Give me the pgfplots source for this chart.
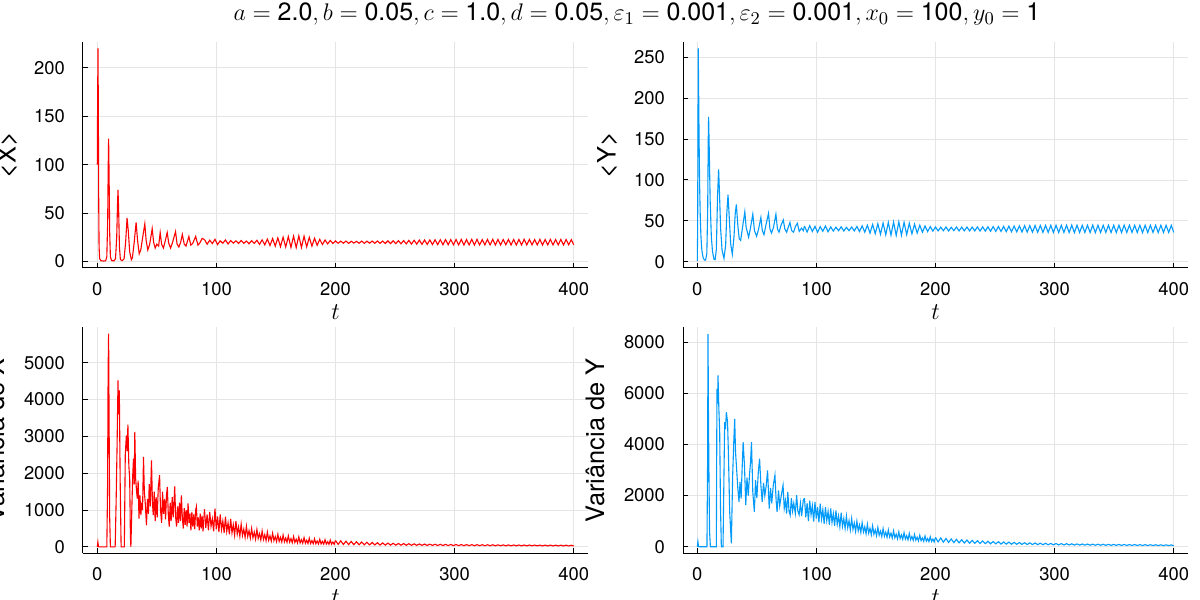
\documentclass[border=0pt]{standalone}
\usepackage{pgfplots}
\usepackage{pgfplotstable}
\pgfplotsset{compat=1.18}
\usepackage{fontspec}
\setmainfont{TeX Gyre Heros}
\definecolor{jlred}{RGB}{255,0,0}
\definecolor{jlblue}{RGB}{0,154,250}
\newcommand{\ticksize}{\fontsize{9.2pt}{11pt}\selectfont}
\newcommand{\labsize}{\fontsize{12.7pt}{15pt}\selectfont}

\pgfplotstableread{
t X Y VX VY
90 22.8 43.5 1020 1900
92.2 17.9 36.2 480 1000
94.4 22.1 44.0 950 1750
96.6 18.6 36.8 420 1050
98.8 23.0 43.2 1040 1700
101 17.6 35.9 380 950
103.2 21.5 42.8 880 1650
105.4 18.9 37.1 360 900
107.6 22.4 43.6 820 1550
109.8 18.2 36.5 340 880
112 21.7 42.5 760 1500
114.2 19.1 37.4 300 820
116.4 21.4 42.2 700 1400
118.6 18.7 37.8 280 780
120.8 21.8 42.6 620 1300
123 18.9 37.5 250 720
125.2 21.2 42.0 560 1200
127.4 18.4 37.9 230 680
129.6 21.6 42.4 500 1100
131.8 18.8 37.6 210 620
134 22.0 43.0 470 1000
136.2 17.8 36.8 190 580
138.4 22.5 43.8 430 940
140.6 17.2 36.0 170 530
142.8 23.2 44.6 400 880
145 16.6 35.0 160 490
147.2 23.8 45.5 380 820
149.4 16.0 34.2 150 450
151.6 24.5 46.4 350 760
153.8 15.4 33.5 140 420
156 25.2 47.2 330 710
158.2 15.0 32.8 130 390
160.4 25.8 48.0 310 660
162.6 14.6 32.3 120 360
164.8 26.3 48.5 290 620
167 14.4 32.0 110 330
169.2 26.6 48.8 280 580
171.4 14.6 32.2 100 310
173.6 26.2 48.2 260 550
175.8 15.2 33.0 95 290
178 25.0 47.0 240 520
180.2 16.0 34.0 90 270
182.4 24.0 45.8 225 480
184.6 16.8 35.0 85 250
186.8 23.0 44.6 210 450
189 17.6 36.0 80 230
191.2 22.3 43.6 200 420
193.4 18.3 36.8 75 215
195.6 21.8 42.9 185 390
197.8 18.7 37.3 72 200
200 21.3 42.5 175 365
202.2 18.9 37.6 68 188
204.4 21.1 42.2 165 345
206.6 19.0 37.8 65 178
208.8 21.2 42.4 155 325
211 18.8 37.5 62 168
213.2 21.0 42.1 148 305
215.4 19.1 37.9 60 160
217.6 20.9 42.3 140 290
219.8 18.9 37.6 58 152
222 21.2 42.2 132 275
224.2 18.8 37.7 56 145
226.4 21.1 42.4 126 262
228.6 19.0 37.5 54 138
230.8 21.2 42.3 120 250
233 18.9 37.6 52 132
235.2 21.3 42.5 114 238
237.4 18.8 37.4 50 126
239.6 21.2 42.6 108 226
241.8 18.7 37.3 48 120
244 21.4 42.7 103 216
246.2 18.6 37.2 47 115
248.4 21.5 42.9 98 206
250.6 18.5 37.0 46 110
252.8 21.6 43.0 94 197
255 18.4 36.9 45 105
257.2 21.7 43.2 90 188
259.4 18.3 36.7 44 101
261.6 21.9 43.4 86 180
263.8 18.1 36.5 43 97
266 22.0 43.6 83 172
268.2 18.0 36.4 42 93
270.4 22.2 43.8 80 165
272.6 17.8 36.2 41 90
274.8 22.3 44.0 77 158
277 17.7 36.1 40 87
279.2 22.4 44.1 74 152
281.4 17.6 36.0 39 84
283.6 22.5 44.2 72 146
285.8 17.5 35.9 38 81
288 22.6 44.3 70 140
290.2 17.4 35.8 37 78
292.4 22.7 44.4 68 135
294.6 17.4 35.8 36 76
296.8 22.7 44.5 66 130
299 17.3 35.7 35 73
301.2 22.8 44.6 64 126
303.4 17.2 35.6 34 71
305.6 22.9 44.5 63 122
307.8 17.1 35.7 33 69
310 22.8 44.6 62 118
312.2 17.2 35.6 33 67
314.4 23.0 44.7 61 114
316.6 17.1 35.5 32 65
318.8 22.9 44.6 60 111
321 17.2 35.6 32 63
323.2 22.8 44.5 59 108
325.4 17.3 35.7 31 61
327.6 22.9 44.6 58 105
329.8 17.2 35.6 31 60
332 23.0 44.7 57 102
334.2 17.1 35.5 30 58
336.4 22.9 44.6 56 99
338.6 17.2 35.6 30 57
340.8 22.8 44.5 55 97
343 17.3 35.7 29 55
345.2 22.9 44.6 54 94
347.4 17.2 35.6 29 54
349.6 22.8 44.5 53 92
351.8 17.1 35.5 28 53
354 22.9 44.6 52 90
356.2 17.2 35.6 28 52
358.4 23.0 44.7 52 88
360.6 17.2 35.6 27 51
362.8 22.9 44.6 51 86
365 17.3 35.7 27 50
367.2 22.8 44.5 50 84
369.4 17.2 35.6 27 49
371.6 22.9 44.6 49 82
373.8 17.1 35.5 26 48
376 22.8 44.5 48 80
378.2 17.2 35.6 26 47
380.4 22.9 44.6 48 78
382.6 17.3 35.7 26 46
384.8 22.8 44.5 47 77
387 17.2 35.6 25 45
389.2 22.9 44.6 46 75
391.4 17.2 35.6 25 44
393.6 22.8 44.5 46 74
395.8 17.3 35.7 25 43
398 22.7 44.4 45 72
400 17.4 35.8 24 42
}\late

\pgfplotstableread{
t VX VY
90.0 1020 1900
91.1 520 1150
92.2 880 1700
93.3 450 1000
94.4 950 1800
95.5 560 1250
96.6 760 1600
97.7 420 980
98.8 1040 1750
99.9 480 1100
101.0 830 1550
102.1 400 950
103.2 880 1680
104.3 470 1080
105.4 700 1450
106.5 380 900
107.6 820 1550
108.7 420 1020
109.8 650 1380
110.9 340 860
112.0 760 1500
113.1 380 950
114.2 600 1300
115.3 320 820
116.4 700 1420
117.5 350 880
118.6 540 1200
119.7 290 780
120.8 620 1330
121.9 310 800
123.0 480 1100
124.1 260 720
125.2 560 1200
126.3 280 740
127.4 440 1020
128.5 240 660
129.6 500 1100
130.7 250 680
131.8 400 930
132.9 210 600
134.0 470 1000
135.1 230 620
136.2 360 850
137.3 190 560
138.4 430 940
139.5 200 580
140.6 330 780
141.7 170 510
142.8 400 880
143.9 180 530
145.0 300 720
146.1 160 470
147.2 370 820
148.3 170 490
149.4 280 660
150.5 145 430
151.6 340 760
152.7 150 450
153.8 260 610
154.9 135 400
156.0 320 710
157.1 140 410
158.2 240 570
159.3 125 370
160.4 300 660
161.5 130 380
162.6 225 530
163.7 115 340
164.8 280 620
165.9 120 350
167.0 210 490
168.1 105 310
169.2 270 580
170.3 110 320
171.4 195 460
172.5 100 290
173.6 250 550
174.7 100 300
175.8 180 430
176.9 92 270
178.0 235 520
179.1 92 275
180.2 170 400
181.3 86 250
182.4 220 480
183.5 86 255
184.6 160 370
185.7 80 230
186.8 205 450
187.9 80 235
189.0 150 345
190.1 75 215
191.2 195 420
192.3 76 218
193.4 140 320
194.5 71 200
195.6 185 390
196.7 72 205
197.8 132 300
198.9 68 190
200.0 175 365
}\mid

\pgfplotsset{
  jl/.style={
    scale only axis, width=252.5pt, height=113pt, anchor=south west,
    axis x line*=bottom, axis y line*=left, axis line style={-, black, line width=0.5pt},
    tick align=inside, major tick length=2.5pt, tick style={black, line width=0.5pt},
    xmin=-12, xmax=412, xtick={0,100,200,300,400},
    grid=major, major grid style={black!10, line width=0.4pt},
    ticklabel style={font=\ticksize},
    yticklabel style={xshift=-5.5pt},
    xticklabel style={yshift=-3.5pt},
    /pgf/number format/assume math mode=true,
    /pgf/number format/1000 sep={},
    xlabel={$t$},
    xlabel style={at={(axis description cs:0.5,-0.195)}, anchor=center, font=\labsize},
    ylabel style={at={(axis description cs:-0.15,0.5)}, anchor=center, font=\labsize},
  }
}

\begin{document}
\begin{tikzpicture}
\useasboundingbox (0,0) rectangle (600pt,300pt);
\node[font=\fontsize{12.5pt}{15pt}\selectfont] at (318.5pt,293pt)
  {$a=\mbox{2.0}, b=\mbox{0.05}, c=\mbox{1.0}, d=\mbox{0.05}, \varepsilon_1=\mbox{0.001}, \varepsilon_2=\mbox{0.001}, x_0=\mbox{100}, y_0=\mbox{1}$};

% top-left <X>
\begin{axis}[jl, at={(41.5pt,166pt)}, ymin=-6.6, ymax=226.6, ytick={0,50,100,150,200}, ylabel={<X>}]
\addplot[jlred, line width=0.55pt] coordinates {
(0,100) (0.3,170) (0.6,220) (0.9,150) (1.2,60) (1.5,15) (2,3) (3,1) (5,0.6) (7,0.8) (8,5) (8.7,40) (9.2,100) (9.5,127) (9.9,90) (10.4,30) (11,5) (12,1) (14,0.8) (15.3,3) (16.3,25) (17,60) (17.4,74) (17.9,55) (18.6,15) (19.4,2) (21,1) (22.5,3) (23.8,20) (25,45) (26,32) (27.2,10) (28.6,2) (29.5,4) (31,20) (32.6,40.5) (33.8,22) (35.2,8) (36.5,12) (38.5,28) (39.9,39) (41,22) (42.4,12) (44,18) (46.1,34) (47.3,20) (48.6,14) (50,18) (51.5,16) (52.8,30) (54,18) (55.5,14) (57,21) (58.7,30) (60,19) (61.5,14) (63,19) (65.7,31) (67,18) (68.5,15) (70,20) (71.4,28) (73,18) (74.5,16) (76.9,26) (78.5,17) (80,18.5) (82.6,26) (84.5,17) (86,19) (88,24) (90,22.8)
};
\addplot[jlred, line width=0.55pt] table[x=t, y=X] {\late};
\end{axis}

% top-right <Y>
\begin{axis}[jl, at={(341.5pt,166pt)}, ymin=-7.8, ymax=268.8, ytick={0,50,100,150,200,250}, ylabel={<Y>}]
\addplot[jlblue, line width=0.55pt] coordinates {
(0,1) (0.3,40) (0.55,160) (0.8,261) (1.1,215) (1.5,150) (2,90) (2.5,55) (3,33) (3.5,20) (4,12) (5,4.5) (6,2) (7,2) (8,10) (8.7,60) (9.2,150) (9.5,177) (10,140) (10.8,75) (11.8,30) (12.8,12) (14,3) (15,2.5) (16,15) (17,80) (17.9,113) (18.6,85) (19.6,40) (20.8,14) (22.4,4) (23.8,20) (24.8,60) (25.8,82) (26.8,55) (28,22) (29.4,9) (30.8,30) (31.8,58) (32.8,70) (34,45) (35.2,28) (36.4,26) (38,42) (39.9,61) (41,42) (43.1,30) (44.5,40) (46.6,58) (48,38) (49.8,31) (51.5,40) (53.4,54) (54.6,38) (56,33) (57.5,44) (59.8,59) (61,40) (62.3,35) (64,42) (66,58) (67.3,40) (68.6,36) (70.2,44) (72.2,51) (73.5,40) (75,36) (77.8,48) (79.2,38) (80.8,36) (82.4,43) (84,47) (85.6,37) (87.5,41) (89,38) (90,43.5)
};
\addplot[jlblue, line width=0.55pt] table[x=t, y=Y] {\late};
\end{axis}

% bottom-left Var X
\begin{axis}[jl, at={(41.5pt,23.35pt)}, ymin=-174, ymax=5960, ytick={0,1000,2000,3000,4000,5000}, ylabel={Variância de X},
  ylabel style={at={(axis description cs:-0.174,0.5)}}]
\addplot[jlred, line width=0.55pt] coordinates {
(0,0) (0.5,130) (1,5) (2,0) (8,0) (8.6,1500) (9.1,4800) (9.5,5786) (9.9,3500) (10.4,800) (11,0) (15,0) (15.8,1200) (16.6,2712) (17.4,4520) (17.9,3600) (18.5,4250) (19.2,1800) (20,0) (22.7,0) (23.5,2500) (24.4,3029) (25.1,2600) (25.7,3318) (26.5,2200) (27.2,1855) (27.8,300) (28.2,0) (28.9,900) (29.7,1900) (30.4,2397) (31.0,1700) (31.5,3118) (32.2,1855) (33.0,1500) (33.6,1311) (34.3,1800) (35,770) (35.8,1400) (36.6,860) (37.3,1200) (38.0,1000) (38.8,2440) (39.5,1500) (40.2,1220) (41.3,588) (42.1,1300) (42.9,900) (43.6,1700) (44.5,1100) (45.5,2350) (46.3,1200) (47.0,860) (47.8,1500) (48.6,700) (49.4,1350) (50.3,800) (51.2,1600) (52.3,1944) (53.1,1000) (54.0,650) (54.8,1500) (55.6,900) (56.5,1300) (57.3,750) (58.1,1400) (58.8,1627) (59.6,900) (60.4,550) (61.2,1200) (62,700) (62.9,1350) (63.7,800) (64.4,1200) (65,1640) (65.8,800) (66.6,550) (67.4,1100) (68.2,650) (69,1200) (69.8,700) (70.6,1400) (71.4,800) (72.2,500) (73,1050) (73.8,600) (74.6,1000) (75.4,550) (76.2,1180) (77,650) (77.8,900) (78.6,450) (79.4,950) (80.2,550) (81,880) (81.8,480) (82.6,1000) (83.2,1090) (84,550) (84.8,800) (85.6,450) (86.4,900) (87.2,500) (88,850) (88.8,420) (90,1020)
};
\addplot[jlred, line width=0.55pt] table[x=t, y=VX] {\mid};
\addplot[jlred, line width=0.55pt, restrict x to domain=199.9:401] table[x=t, y=VX] {\late};
\end{axis}

% bottom-right Var Y
\begin{axis}[jl, at={(341.5pt,23.35pt)}, ymin=-257, ymax=8584, ytick={0,2000,4000,6000,8000}, ylabel={Variância de Y},
  ylabel style={at={(axis description cs:-0.174,0.5)}}]
\addplot[jlblue, line width=0.55pt] coordinates {
(0,0) (0.5,195) (1,5) (2,0) (8.1,0) (8.6,3000) (9.0,8320) (9.4,5000) (9.8,2800) (10.3,600) (11,0) (16,0) (16.5,6175) (17.0,5600) (17.4,6700) (18.1,5400) (18.8,4485) (19.5,1500) (20.2,0) (21.6,0) (22.3,2500) (23,4875) (23.7,4600) (24.4,5265) (25.4,4875) (26.1,3700) (27.2,1365) (28.6,130) (29.7,2795) (30.7,4200) (31.4,5005) (32.1,3700) (33,3055) (34,2300) (35,1755) (35.9,2535) (36.8,1885) (37.6,3000) (38.5,4095) (39.6,3185) (40.7,1625) (41.7,2700) (42.8,2000) (43.8,2800) (44.7,3300) (45.5,4095) (46.6,2145) (47.9,1365) (48.9,2600) (50,1900) (51.2,2900) (52.3,3445) (53.4,2400) (54.5,1755) (55.6,2500) (56.7,2000) (57.9,2400) (59,2990) (59.9,2000) (60.4,1495) (61.5,2300) (62.5,1700) (63.8,2400) (65.2,2795) (66.2,1800) (67,1365) (68.2,2200) (69.2,1600) (70.5,2000) (72,2405) (73,1500) (74,1800) (75,1300) (76,2145) (77,1400) (78,1235) (79,1900) (80,1400) (81,1700) (82.3,1300) (83.4,2015) (84.4,1400) (85.5,1250) (86.6,1700) (87.6,1200) (89,1820) (90,1900)
};
\addplot[jlblue, line width=0.55pt] table[x=t, y=VY] {\mid};
\addplot[jlblue, line width=0.55pt, restrict x to domain=199.9:401] table[x=t, y=VY] {\late};
\end{axis}
\end{tikzpicture}
\end{document}
